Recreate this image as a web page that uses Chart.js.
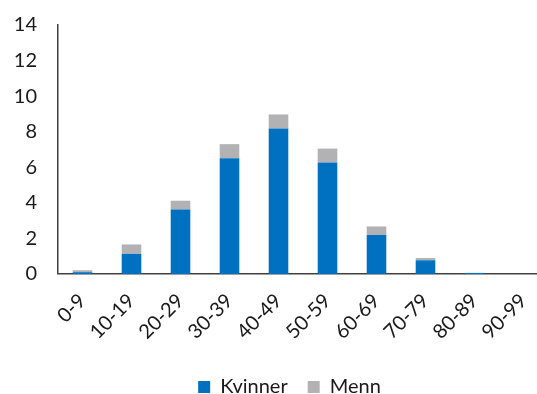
<!DOCTYPE html>
<html>
<head>
<meta charset="utf-8">
<script src="https://cdn.jsdelivr.net/npm/chart.js@4"></script>
<style>
  html, body { margin: 0; padding: 0; background: #fff; overflow: hidden; }
  #wrap { width: 578px; height: 409px; }
</style>
</head>
<body>
<div id="wrap"><canvas id="chart" width="578" height="409"></canvas></div>
<script>
// Age groups and counts
const ageGroups = ['0-9', '10-19', '20-29', '30-39', '40-49', '50-59', '60-69', '70-79', '80-89', '90-99'];
const kvinner = [0.1, 1.13, 3.62, 6.51, 8.18, 6.27, 2.19, 0.77, 0.06, 0];
const menn = [0.11, 0.53, 0.5, 0.79, 0.79, 0.78, 0.48, 0.13, 0, 0];
const yTicks = [0, 2, 4, 6, 8, 10, 12, 14];

const fontFamily = 'Lato, "Open Sans", sans-serif';
const textColor = '#1a1a1a';
const axisColor = '#404040';

// move the legend a bit right (and a hair up), where the original has it
const legendShift = {
    id: 'legendShift',
    afterLayout(chart) {
        const lg = chart.legend;
        lg.left += 9;
        lg.right += 9;
        lg.top -= 2;
        lg.bottom -= 2;
    }
};

const ctx = document.getElementById('chart');
new Chart(ctx, {
    type: 'bar',
    data: {
        labels: ageGroups,
        datasets: [
            {
                label: 'Kvinner',
                data: kvinner,
                backgroundColor: '#0070c0',
                borderWidth: 0
            },
            {
                label: 'Menn',
                data: menn,
                backgroundColor: '#b2b2b4',
                borderWidth: 0
            }
        ]
    },
    options: {
        responsive: false,
        animation: false,
        layout: {
            padding: { left: 13, right: 30, top: 25, bottom: 0 }
        },
        datasets: {
            bar: { categoryPercentage: 1, barPercentage: 0.4 }
        },
        scales: {
            x: {
                stacked: true,
                grid: { display: false, drawTicks: false },
                border: { display: true, color: axisColor, width: 1.5 },
                ticks: {
                    color: textColor,
                    font: { family: fontFamily, size: 20 },
                    minRotation: 45,
                    maxRotation: 45,
                    padding: 15
                },
                // first rotated label may hang left past the y axis, like the original
                afterFit: axis => { axis.paddingLeft = 0; }
            },
            y: {
                stacked: true,
                min: 0,
                max: 14,
                afterBuildTicks: axis => {
                    axis.ticks = yTicks.map(v => ({ value: v }));
                },
                afterFit: axis => {
                    axis.width = 45;
                    axis.paddingTop = 0;
                },
                grid: { display: false, drawTicks: false },
                border: { display: true, color: axisColor, width: 1.5 },
                ticks: {
                    color: textColor,
                    font: { family: fontFamily, size: 20 },
                    padding: 21
                }
            }
        },
        plugins: {
            legend: {
                position: 'bottom',
                labels: {
                    color: textColor,
                    font: { family: fontFamily, size: 20 },
                    boxWidth: 12,
                    boxHeight: 12,
                    padding: 20
                }
            },
            tooltip: { enabled: false }
        }
    },
    plugins: [legendShift]
});
</script>
</body>
</html>
